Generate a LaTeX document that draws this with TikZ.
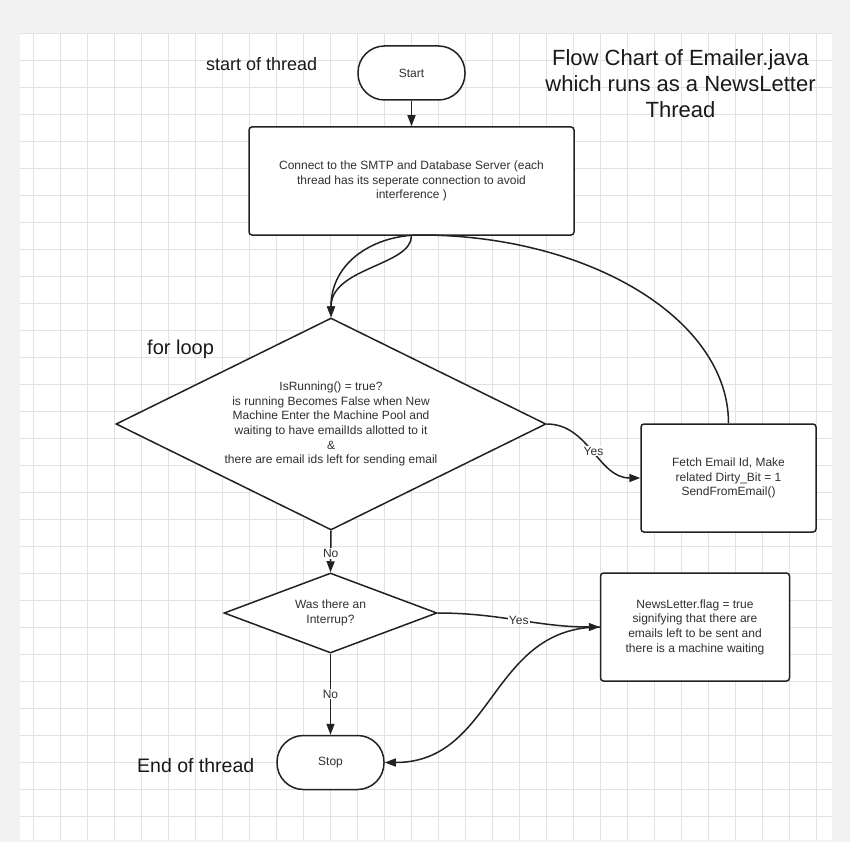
\documentclass[tikz,border=0pt]{standalone}
\usepackage{fontspec}
\setmainfont{Liberation Sans}
\usetikzlibrary{shapes.geometric,arrows.meta}
\definecolor{bggray}{HTML}{F2F2F2}
\definecolor{gridc}{HTML}{E2E2E2}
\definecolor{linec}{HTML}{222222}
\definecolor{textc}{HTML}{303030}
\newcommand{\fsz}[2]{\fontsize{#1}{#2}\selectfont}
\begin{document}
\begin{tikzpicture}[x=1pt,y=-1pt,
  shapebox/.style={draw=linec, line width=1.5pt, fill=white, rounded corners=3pt, inner sep=0pt, align=center, text=textc, font=\fsz{12}{14.6}},
  terminal/.style={draw=linec, line width=1.5pt, fill=white, rounded corners=26.5pt, minimum width=107pt, minimum height=54pt, inner sep=0pt, text=textc, font=\fsz{12}{14.6}},
  decision/.style={diamond, draw=linec, line width=1.5pt, fill=white, inner sep=0pt, align=center, text=textc, font=\fsz{12}{14.6}},
  conn/.style={draw=linec, line width=1.5pt, -{Triangle[length=11pt,width=8pt]}},
  lbl/.style={fill=white, inner sep=1pt, text=textc, font=\fsz{12}{14}},
  freetext/.style={text=black!90, inner sep=0pt},
]
\useasboundingbox (0,0) rectangle (850,842);
% background and grid
\fill[bggray] (0,0) rectangle (850,842);
\fill[white] (20,33) rectangle (832,840);
\foreach \gx in {33,60,...,816} {\draw[gridc, line width=0.9pt] (\gx,33) -- (\gx,840);}
\foreach \gy in {33,60,...,816} {\draw[gridc, line width=0.9pt] (20,\gy) -- (832,\gy);}

% free texts
\node[freetext, font=\fsz{18}{21}, anchor=base west] (lstart) at (206,71) {start of thread};
\node[freetext, font=\fsz{20}{24}, anchor=base west] (lloop) at (147,354) {for loop};
\node[freetext, font=\fsz{19.5}{23}, anchor=base west] (lend) at (137,772) {End of thread};
\node[freetext, font=\fsz{22}{26}, anchor=north, align=center] (title) at (680.5,49) {Flow Chart of Emailer.java\\which runs as a NewsLetter\\Thread};

% nodes
\node[terminal] (start) at (411.5,73) {Start};
\node[shapebox, minimum width=325pt, minimum height=108pt] (box1) at (411.5,181) {Connect to the SMTP and Database Server (each\\thread has its seperate connection to avoid\\interference )};
\node[decision, minimum width=430pt, minimum height=212pt, aspect=2.03] (d1) at (331,424) {IsRunning() = true?\\is running Becomes False when New\\Machine Enter the Machine Pool and\\waiting to have emailIds allotted to it\\\&\\there are email ids left for sending email};
\node[shapebox, minimum width=175pt, minimum height=108pt] (fetch) at (728.5,478) {Fetch Email Id, Make\\related Dirty\_Bit = 1\\SendFromEmail()};
\node[decision, minimum width=213pt, minimum height=80pt, aspect=2.66] (d2) at (330.5,613) {Was there an\\Interrup?};
\node[shapebox, minimum width=189pt, minimum height=108pt] (news) at (695,627) {NewsLetter.flag = true\\signifying that there are\\emails left to be sent and\\there is a machine waiting};
\node[terminal] (stop) at (330.5,762.5) {Stop};

% connectors
\coordinate (looptop) at (420,235);
\draw[conn] (start) -- (box1);
\draw[conn] (box1.south) .. controls +(0,30) and +(0,-50) .. (d1.north);
\draw[conn] (fetch.north) .. controls +(0,-104) and +(169,0) .. (looptop) .. controls +(-45,0) and +(0,-56) .. (d1.north);
\draw[conn] (d1.east) to[out=0,in=180] node[lbl] {Yes} (fetch.west);
\draw[conn] (d1.south) -- node[lbl, pos=0.55] {No} (d2.north);
\draw[conn] (d2.east) to[out=0,in=180] node[lbl] {Yes} (news.west);
\draw[conn] (news.west) .. controls +(-110,0) and +(110,0) .. (stop.east);
\draw[conn] (d2.south) -- node[lbl] {No} (stop.north);
\end{tikzpicture}
\end{document}
